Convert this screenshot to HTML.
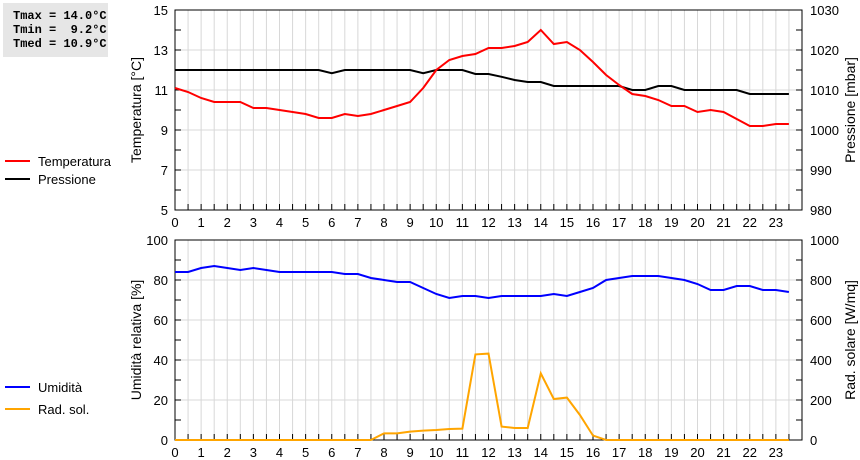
<!DOCTYPE html>
<html><head><meta charset="utf-8"><style>
body{margin:0;background:#fff;}
svg{display:block;font-family:"Liberation Sans",sans-serif;}
</style></head><body>
<svg id="c" width="860" height="460"></svg>
<script>
const hours=[0,0.5,1,1.5,2,2.5,3,3.5,4,4.5,5,5.5,6,6.5,7,7.5,8,8.5,9,9.5,10,10.5,11,11.5,12,12.5,13,13.5,14,14.5,15,15.5,16,16.5,17,17.5,18,18.5,19,19.5,20,20.5,21,21.5,22,22.5,23,23.5];
const temperature=[11.1,10.9,10.6,10.4,10.4,10.4,10.1,10.1,10.0,9.9,9.8,9.6,9.6,9.8,9.7,9.8,10.0,10.2,10.4,11.1,12.0,12.5,12.7,12.8,13.1,13.1,13.2,13.4,14.0,13.3,13.4,13.0,12.4,11.75,11.25,10.8,10.7,10.5,10.2,10.2,9.9,10.0,9.9,9.55,9.2,9.2,9.3,9.3];
const pressure=[1015,1015,1015,1015,1015,1015,1015,1015,1015,1015,1015,1015,1014.2,1015,1015,1015,1015,1015,1015,1014.2,1015,1015,1015,1014,1014,1013.3,1012.5,1012,1012,1011,1011,1011,1011,1011,1011,1010,1010,1011,1011,1010,1010,1010,1010,1010,1009,1009,1009,1009];
const humidity=[84,84,86,87,86,85,86,85,84,84,84,84,84,83,83,81,80,79,79,76,73,71,72,72,71,72,72,72,72,73,72,74,76,80,81,82,82,82,81,80,78,75,75,77,77,75,75,74];
const radiation=[0,0,0,0,0,0,0,0,0,0,0,0,0,0,0,0,33,33,42,47,50,55,57,428,432,67,60,60,333,205,212,125,22,0,0,0,0,0,0,0,0,0,0,0,0,0,0,0];
const xTicks=[0,1,2,3,4,5,6,7,8,9,10,11,12,13,14,15,16,17,18,19,20,21,22,23];
const tempTicks=[5,7,9,11,13,15];
const presTicks=[980,990,1000,1010,1020,1030];
const humTicks=[0,20,40,60,80,100];
const radTicks=[0,200,400,600,800,1000];

const svg=document.getElementById('c');
const NS='http://www.w3.org/2000/svg';
function mk(tag,attrs,parent){const e=document.createElementNS(NS,tag);for(const k in attrs)e.setAttribute(k,attrs[k]);(parent||svg).appendChild(e);return e;}
const L=175,R=802;
const xs=h=>L+(R-L)*h/24;

function panel(top,bot,lMin,lMax,rMin,rMax,lTicks,rTicks,lTitle,rTitle,name){
  const g=mk('g',{});
  
  
  const yl=v=>bot-(bot-top)*(v-lMin)/(lMax-lMin);
  const yr=v=>bot-(bot-top)*(v-rMin)/(rMax-rMin);
  for(let h=0.5;h<24;h+=0.5){mk('line',{x1:xs(h),x2:xs(h),y1:top,y2:bot,stroke:'#d8d8d8','stroke-width':1},g);}
  lTicks.forEach(v=>{mk('line',{x1:L,x2:R,y1:yl(v),y2:yl(v),stroke:'#d8d8d8','stroke-width':1},g);});
  for(let h=0.5;h<24;h+=0.5){mk('line',{x1:xs(h),x2:xs(h),y1:bot,y2:bot-6,stroke:'#000'},g);}
  const step=lTicks[1]-lTicks[0];
  for(let v=lMin;v<=lMax;v+=step/2){mk('line',{x1:L,x2:L+6,y1:yl(v),y2:yl(v),stroke:'#000'},g);mk('line',{x1:R,x2:R-6,y1:yl(v),y2:yl(v),stroke:'#000'},g);}
  lTicks.forEach(v=>{const t=mk('text',{x:168,y:yl(v)+5,'text-anchor':'end','font-size':13},g);t.textContent=v;});
  rTicks.forEach(v=>{const t=mk('text',{x:810,y:yr(v)+5,'font-size':13},g);t.textContent=v;});
  xTicks.forEach(v=>{const t=mk('text',{x:xs(v),y:bot+17,'text-anchor':'middle','font-size':13},g);t.textContent=v;});
  const mid=(top+bot)/2;
  const t1=mk('text',{x:0,y:0,'text-anchor':'middle','font-size':14,transform:`translate(141,${mid}) rotate(-90)`},g);t1.textContent=lTitle;
  
  const t2=mk('text',{x:0,y:0,'text-anchor':'middle','font-size':14,transform:`translate(855,${mid}) rotate(-90)`},g);t2.textContent=rTitle;
  
  mk('rect',{x:L,y:top,width:R-L,height:bot-top,fill:'none',stroke:'#000','stroke-width':1},g);
  return {yl,yr,g};
}
function line(vals,yf,color,g,name){
  const d=vals.map((v,i)=>(i?'L':'M')+xs(hours[i]).toFixed(1)+','+yf(v).toFixed(1)).join('');
  const p=mk('path',{d:d,fill:'none',stroke:color,'stroke-width':2},g);
  
  
}
const p1=panel(10,210,5,15,980,1030,tempTicks,presTicks,'Temperatura [°C]','Pressione [mbar]','temperature-panel');
line(pressure,p1.yr,'#000',p1.g,'pressure-line');
line(temperature,p1.yl,'#f00',p1.g,'temperature-line');
const p2=panel(240,440,0,100,0,1000,humTicks,radTicks,'Umidità relativa [%]','Rad. solare [W/mq]','humidity-panel');
line(radiation,p2.yr,'#ffa500',p2.g,'radiation-line');
line(humidity,p2.yl,'#00f',p2.g,'humidity-line');

function legend(y,color,label,name){
  const g=mk('g',{});
  
  
  mk('line',{x1:5,x2:30,y1:y,y2:y,stroke:color,'stroke-width':2},g);
  const t=mk('text',{x:38,y:y+5,'font-size':13},g);t.textContent=label;
}
legend(161,'#f00','Temperatura','legend-temperatura');
legend(179,'#000','Pressione','legend-pressione');
legend(387,'#00f','Umidità','legend-umidita');
legend(409,'#ffa500','Rad. sol.','legend-rad-sol');

const box=mk('g',{});


mk('rect',{x:3,y:3,width:105,height:54,fill:'#e6e6e6'},box);
['Tmax = 14.0°C','Tmin =  9.2°C','Tmed = 10.9°C'].forEach((s,i)=>{
  const t=mk('text',{x:13,y:19+i*14,'font-size':12,'font-weight':'bold','font-family':'Liberation Mono, monospace','xml:space':'preserve'},box);
  t.setAttribute('style','white-space:pre');
  t.textContent=s;
});
</script>
</body></html>
